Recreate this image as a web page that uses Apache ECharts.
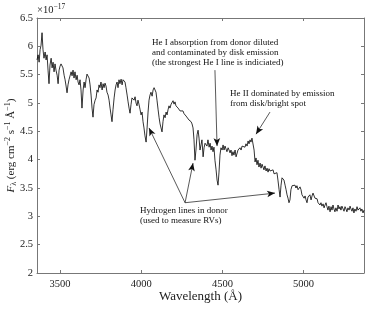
<!DOCTYPE html>
<html><head><meta charset="utf-8">
<script src="https://cdn.jsdelivr.net/npm/echarts@6/dist/echarts.min.js"></script>
<style>html,body{margin:0;padding:0;background:#fff}#c{width:382px;height:309px}</style>
</head><body><div id="c"></div>
<script>
// Wavelength (Å)
const wavelengths = [3358,3365,3371,3377,3383,3389,3395,3401,3408,3414,3420,3426,3432,3438,3445,3451,3457,3463,3469,3475,3482,3488,3494,3500,3506,3512,3518,3525,3531,3537,3543,3549,3555,3562,3568,3574,3580,3586,3592,3599,3605,3611,3617,3623,3629,3635,3642,3648,3654,3660,3666,3672,3679,3685,3691,3697,3703,3709,3716,3722,3728,3734,3740,3746,3752,3759,3765,3771,3777,3783,3789,3796,3802,3808,3814,3820,3826,3833,3839,3845,3851,3857,3863,3869,3876,3882,3888,3894,3900,3906,3913,3919,3925,3931,3937,3943,3950,3956,3962,3968,3974,3980,3986,3993,3999,4005,4011,4017,4023,4030,4036,4042,4048,4054,4060,4067,4073,4079,4085,4091,4097,4104,4110,4116,4122,4128,4134,4140,4147,4153,4159,4165,4171,4177,4184,4190,4196,4202,4208,4214,4220,4227,4233,4239,4245,4251,4257,4264,4270,4276,4282,4288,4294,4301,4307,4313,4319,4325,4331,4337,4344,4350,4356,4362,4368,4374,4381,4387,4393,4399,4405,4411,4418,4424,4430,4436,4442,4448,4454,4461,4467,4473,4479,4485,4491,4498,4504,4510,4516,4522,4528,4535,4541,4547,4553,4559,4565,4571,4578,4584,4590,4596,4602,4608,4615,4621,4627,4633,4639,4645,4652,4658,4664,4670,4676,4682,4688,4695,4701,4707,4713,4719,4725,4732,4738,4744,4750,4756,4762,4769,4775,4781,4787,4793,4799,4805,4812,4818,4824,4830,4836,4842,4849,4855,4861,4867,4873,4879,4886,4892,4898,4904,4910,4916,4922,4929,4935,4941,4947,4953,4959,4966,4972,4978,4984,4990,4996,5003,5009,5015,5021,5027,5033,5039,5046,5052,5058,5064,5070,5076,5083,5089,5095,5101,5107,5113,5120,5126,5132,5138,5144,5150,5156,5163,5169,5175,5181,5187,5193,5199,5206,5212,5218,5224,5230,5236,5243,5249,5255,5261,5267,5273,5280,5286,5292,5298,5304,5310,5316,5323,5329,5335,5341,5347,5353,5359,5366,5372];
// Flux (units of 1e-17 erg cm^-2 s^-1 Å^-1)
const flux = [5.76,5.85,5.72,5.94,6.02,6.24,5.94,5.79,5.90,5.76,5.85,5.58,5.34,5.67,5.79,5.62,5.72,5.55,5.69,5.58,5.49,5.34,5.58,5.65,5.69,5.72,5.62,5.49,5.41,5.30,5.18,5.32,5.41,5.44,5.55,5.48,5.58,5.44,5.55,5.41,5.49,5.37,5.32,5.41,5.23,4.91,5.23,5.37,5.27,5.41,5.51,5.53,5.44,5.32,5.14,4.91,4.75,4.97,5.05,5.09,5.23,5.19,5.32,5.27,5.37,5.23,5.34,5.27,5.35,5.30,5.19,5.14,5.05,4.91,4.79,4.67,4.88,5.09,5.23,5.32,5.37,5.27,5.41,5.34,5.42,5.32,5.41,5.44,5.37,5.27,5.14,5.02,4.91,4.82,4.97,5.09,5.12,5.05,5.11,5.00,4.95,5.05,4.98,4.88,4.79,4.84,4.67,4.56,4.42,4.31,4.56,4.84,5.05,5.14,5.19,5.12,5.23,5.27,5.28,5.19,5.05,4.88,4.74,4.63,4.56,4.49,4.67,4.79,4.74,4.84,4.79,4.88,4.95,4.91,4.98,5.00,5.04,4.98,5.02,4.95,4.97,4.91,4.93,4.86,4.89,4.84,4.86,4.81,4.82,4.77,4.79,4.74,4.70,4.72,4.67,4.63,4.56,4.35,3.99,4.17,4.44,4.52,4.38,4.17,4.26,4.35,4.05,4.21,4.29,4.31,4.24,4.35,4.22,4.29,4.17,4.24,4.14,4.22,3.99,3.82,3.64,3.55,3.78,4.08,4.21,4.17,4.26,4.17,4.24,4.19,4.14,4.21,4.17,4.12,4.17,4.07,4.14,4.08,4.17,4.05,4.07,4.17,4.14,4.21,4.17,4.24,4.21,4.26,4.22,4.28,4.24,4.33,4.28,4.35,4.31,4.38,4.35,4.17,3.96,4.03,3.91,3.99,3.87,3.94,3.85,3.92,3.89,3.82,3.89,3.80,3.85,3.78,3.84,3.80,3.82,3.77,3.82,3.75,3.78,3.73,3.77,3.64,3.47,3.34,3.55,3.68,3.69,3.64,3.55,3.47,3.38,3.32,3.24,3.29,3.47,3.54,3.57,3.52,3.55,3.50,3.54,3.47,3.50,3.52,3.47,3.38,3.41,3.32,3.36,3.29,3.24,3.34,3.31,3.38,3.29,3.36,3.41,3.38,3.32,3.29,3.31,3.24,3.27,3.20,3.24,3.18,3.22,3.15,3.20,3.24,3.17,3.11,3.18,3.08,3.17,3.11,3.20,3.13,3.08,3.15,3.09,3.20,3.13,3.17,3.11,3.18,3.15,3.09,3.17,3.13,3.08,3.15,3.11,3.18,3.13,3.09,3.15,3.06,3.13,3.09,3.17,3.11,3.08,3.15,3.09,3.13,3.06,3.11];
const xTicks = [3500, 4000, 4500, 5000];
const yRange = [2, 6.5];
// Annotation arrows: [from, to] in data units
const hArrowFrom = [4270, 3.24];
const hArrowTips = [[4048, 4.56], [4319, 3.94], [4824, 3.41]];
const heIArrow = [[4454, 5.58], [4467, 4.24]];
const heIIArrow = [[4793, 4.84], [4707, 4.45]];

const FONT = 'Liberation Serif';
const axisCol = '#777';
const arrow = (a, b) => [
  { coord: a, symbol: 'none' },
  { coord: b, symbol: 'arrow', symbolSize: [5, 8] }
];

const chart = echarts.init(document.getElementById('c'), null, { renderer: 'canvas' });
const xBase = {
  type: 'value', min: 3358, max: 5372,
  axisLine: { show: true, lineStyle: { color: axisCol, width: 1 } },
  splitLine: { show: false },
  axisTick: { show: true, inside: true, length: 3, customValues: xTicks, lineStyle: { color: axisCol } },
};
const yBase = {
  type: 'value', min: yRange[0], max: yRange[1], interval: 0.5,
  axisLine: { show: true, lineStyle: { color: axisCol, width: 1 } },
  splitLine: { show: false },
  axisTick: { show: true, inside: true, length: 3, lineStyle: { color: axisCol } },
};
chart.setOption({
  animation: false,
  backgroundColor: '#fff',
  grid: { left: 37, right: 18, top: 18, bottom: 36, containLabel: false, outerBoundsMode: 'none' },
  xAxis: [
    Object.assign({}, xBase, {
      position: 'bottom',
      name: 'Wavelength (Å)', nameLocation: 'middle', nameGap: 17, nameMoveOverlap: false,
      nameTextStyle: { fontFamily: FONT, fontSize: 13, color: '#222' },
      axisLabel: { customValues: xTicks, formatter: v => String(v), fontFamily: FONT, fontSize: 10.5, color: '#222', margin: 6 }
    }),
    Object.assign({}, xBase, { position: 'top', axisLabel: { show: false } })
  ],
  yAxis: [
    Object.assign({}, yBase, {
      position: 'left',
      axisLabel: { formatter: v => String(v), fontFamily: FONT, fontSize: 10.5, color: '#222', margin: 4 },
      name: '{it|F}{sub|λ}{n| (erg cm}{sup|−2}{n| s}{sup|−1}{n| Å}{sup|−1}{n|)}',
      nameLocation: 'middle', nameGap: 19, nameRotate: 90, nameMoveOverlap: false,
      nameTextStyle: {
        fontFamily: FONT, fontSize: 11, color: '#222',
        rich: {
          it: { fontFamily: FONT, fontSize: 11, fontStyle: 'italic', color: '#222' },
          n: { fontFamily: FONT, fontSize: 11, color: '#222' },
          sub: { fontFamily: FONT, fontSize: 8, color: '#222', padding: [5, 0, 0, 0] },
          sup: { fontFamily: FONT, fontSize: 8, color: '#222', padding: [0, 0, 6, 0] }
        }
      }
    }),
    Object.assign({}, yBase, { position: 'right', axisLabel: { show: false } })
  ],
  series: [{
    type: 'line',
    data: wavelengths.map((w, i) => [w, flux[i]]),
    showSymbol: false, symbol: 'none',
    lineStyle: { color: '#000', width: 0.8 },
    silent: true,
    markLine: {
      silent: true, animation: false,
      label: { show: false },
      lineStyle: { color: '#111', width: 0.7, type: 'solid' },
      emphasis: { disabled: true },
      data: [
        arrow(hArrowFrom, hArrowTips[0]),
        arrow(hArrowFrom, hArrowTips[1]),
        arrow(hArrowFrom, hArrowTips[2]),
        arrow(heIArrow[0], heIArrow[1]),
        arrow(heIIArrow[0], heIIArrow[1])
      ]
    }
  }],
  graphic: [
    { type: 'text', left: 37, top: 3, silent: true,
      style: { text: '{n|×10}{sup|−17}', font: '10.5px ' + FONT, fill: '#222',
        rich: { n: { fontFamily: FONT, fontSize: 10.5, fill: '#222' }, sup: { fontFamily: FONT, fontSize: 7.5, fill: '#222', padding: [0, 0, 7, 0] } } } },
    { type: 'text', left: 152, top: 38, silent: true,
      style: { text: 'He I absorption from donor diluted\nand contaminated by disk emission\n(the strongest He I line is indiciated)', fontFamily: FONT, fontSize: 9, lineHeight: 10, fill: '#111' } },
    { type: 'text', left: 230, top: 89, silent: true,
      style: { text: 'He II dominated by emission\nfrom disk/bright spot', fontFamily: FONT, fontSize: 9, lineHeight: 10, fill: '#111' } },
    { type: 'text', left: 140, top: 206, silent: true,
      style: { text: 'Hydrogen lines in donor\n(used to measure RVs)', fontFamily: FONT, fontSize: 9, lineHeight: 10, fill: '#111' } }
  ]
});
</script></body></html>
